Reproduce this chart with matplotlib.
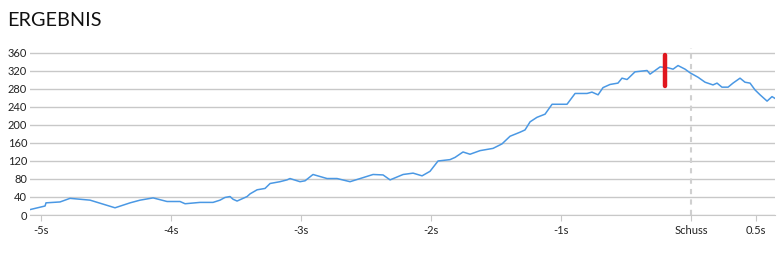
#----Bibliotecas----
import matplotlib
matplotlib.use("Agg")
import matplotlib.pyplot as plt
import numpy as np

plt.rcParams['font.family'] = ['Lato', 'DejaVu Sans']

#----Datos----
tiempo = [-5.085, -4.969, -4.962, -4.854, -4.777, -4.623, -4.431, -4.315, -4.238, -4.138,
          -4.031, -3.931, -3.892, -3.777, -3.677, -3.623, -3.585, -3.546, -3.523, -3.492,
          -3.415, -3.392, -3.338, -3.277, -3.238, -3.162, -3.108, -3.085, -3.008, -2.969,
          -2.908, -2.800, -2.723, -2.623, -2.523, -2.446, -2.369, -2.315, -2.215, -2.138,
          -2.069, -2.008, -1.946, -1.854, -1.815, -1.754, -1.700, -1.623, -1.523, -1.454,
          -1.392, -1.315, -1.277, -1.238, -1.185, -1.123, -1.069, -1.023, -0.954, -0.892,
          -0.800, -0.762, -0.715, -0.677, -0.623, -0.562, -0.531, -0.492, -0.431, -0.338,
          -0.315, -0.238, -0.177, -0.138, -0.100, -0.046, -0.008, 0.054, 0.108, 0.169,
          0.200, 0.238, 0.285, 0.323, 0.377, 0.415, 0.454, 0.492, 0.531, 0.585,
          0.623, 0.646]
valores = [12, 20, 27, 29, 37, 33, 16, 27, 33, 38,
           30, 30, 25, 28, 28, 33, 39, 41, 35, 31,
           41, 47, 56, 59, 70, 74, 78, 81, 74, 76,
           90, 81, 81, 74, 83, 90, 89, 78, 90, 93,
           87, 97, 120, 123, 128, 140, 135, 143, 148, 158,
           175, 184, 189, 207, 217, 224, 246, 246, 246, 270,
           270, 273, 267, 283, 290, 293, 304, 301, 318, 321,
           313, 329, 327, 324, 332, 324, 316, 306, 295, 289,
           293, 284, 284, 293, 304, 295, 293, 278, 267, 253,
           263, 259]

ticks_x = [-5, -4, -3, -2, -1, 0, 0.5]
etiquetas_x = ["-5s", "-4s", "-3s", "-2s", "-1s", "Schuss", "0.5s"]
ticks_y = [0, 40, 80, 120, 160, 200, 240, 280, 320, 360]

marca_t = -0.2          # barra roja
marca_y = [287, 355]
schuss_t = 0

#----Graficar----
fig = plt.figure(figsize=(7.8, 2.69), dpi=100)
ax = fig.add_axes([30/780, 1-215/269, 745/780, 167/269])

ax.set_xlim(-5.085, 0.646)
ax.set_ylim(0, 371)

ax.set_yticks(ticks_y)
ax.yaxis.grid(True, color="#c8c8c8", lw=1)
ax.set_axisbelow(True)
ax.set_xticks(ticks_x)
ax.set_xticklabels(etiquetas_x)

ax.axvline(schuss_t, color="#d0d0d0", lw=1.5, ls=(0, (2.5, 2.5)), zorder=1)
ax.plot(tiempo, valores, color="#4a98e4", lw=1.1, zorder=3)
ax.plot([marca_t, marca_t], marca_y, color="#e0161e", lw=3.2,
        solid_capstyle="round", zorder=4)

for s in ["top", "right", "left"]:
    ax.spines[s].set_visible(False)
ax.spines["bottom"].set_color("#c8c8c8")

ax.tick_params(axis="y", length=0, pad=2, labelsize=8, labelcolor="#222222")
ax.tick_params(axis="x", length=4, color="#c8c8c8", pad=3, labelsize=8,
               labelcolor="#222222")

fig.text(7/780, 1-20/269, "ERGEBNIS", fontsize=14.3, color="#111111",
         va="center", ha="left")

fig.savefig("out.png", dpi=100)
